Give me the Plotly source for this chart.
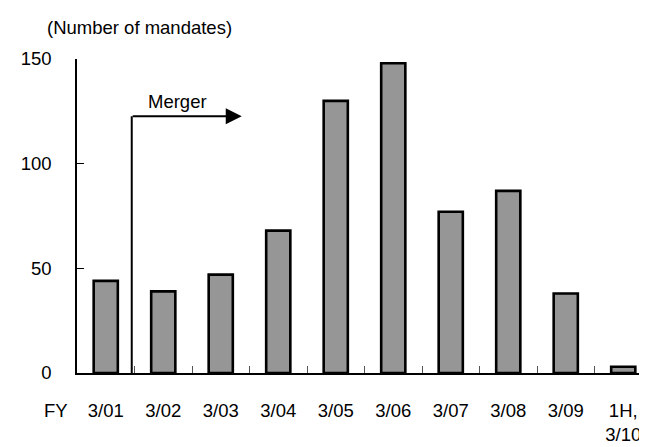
import plotly.graph_objects as go

categories = ["3/01", "3/02", "3/03", "3/04", "3/05", "3/06", "3/07", "3/08", "3/09", "1H,<br>3/10"]
mandates = [44, 39, 47, 68, 130, 148, 77, 87, 38, 3]
y_ticks = [0, 50, 100, 150]
merger_x = 0.452
merger_y = 122.7
merger_end_x = 2.365
merger_label_x = 1.25

FONT = "Liberation Sans, Arial, sans-serif"
FS = 18.5
OFF = 8  # page body margin
W, H = 647, 447
ML, MT = 77 - OFF, 59 - OFF
plot_bottom = 373 - OFF
MB = H - plot_bottom
MR = 0
plot_w = W - ML - MR
plot_h = H - MT - MB
cat_px = 57.5

fig = go.Figure()
fig.add_trace(go.Bar(
    x=categories, y=mandates, width=0.42,
    marker=dict(color="#969696", line=dict(color="black", width=2.6)),
))

fig.add_shape(type="line", xref="x", yref="y", x0=merger_x, x1=merger_x, y0=0, y1=merger_y,
              line=dict(color="black", width=2))
fig.add_annotation(x=merger_end_x, y=merger_y, ax=merger_x - 0.01, ay=merger_y,
                   xref="x", yref="y", axref="x", ayref="y", text="", showarrow=True,
                   arrowhead=2, arrowwidth=2, arrowsize=1.6, arrowcolor="black")
fig.add_annotation(x=merger_label_x, y=merger_y, yshift=15, xref="x", yref="y",
                   text="Merger", showarrow=False, font=dict(family=FONT, size=FS, color="black"))

fig.add_annotation(xref="paper", yref="paper", x=(45 - OFF - ML) / plot_w,
                   y=1 + (MT - (28 - OFF)) / plot_h,
                   xanchor="left", yanchor="middle", text="(Number of mandates)", showarrow=False,
                   font=dict(family=FONT, size=FS, color="black"))
fig.add_annotation(xref="paper", yref="paper", x=(56 - OFF - ML) / plot_w,
                   y=-((410 - OFF) - plot_bottom) / plot_h,
                   xanchor="center", yanchor="middle", text="FY", showarrow=False,
                   font=dict(family=FONT, size=FS, color="black"))

fig.update_layout(
    width=W, height=H, margin=dict(l=ML, r=MR, t=MT, b=MB),
    plot_bgcolor="white", paper_bgcolor="white", showlegend=False,
    font=dict(family=FONT, size=FS, color="black"),
)
fig.update_xaxes(
    type="category", range=[-0.5, -0.5 + plot_w / cat_px],
    showline=True, linecolor="black", linewidth=1.5,
    ticks="inside", tickson="boundaries", ticklen=7, tickcolor="#555", tickwidth=1,
    showgrid=False, ticklabelstandoff=20, tickfont=dict(family=FONT, size=FS, color="black"),
)
fig.update_yaxes(
    range=[0, 150], tickvals=y_ticks, showline=True, linecolor="black", linewidth=1.5,
    ticks="inside", ticklen=7, tickcolor="black", tickwidth=1, showgrid=False, zeroline=False,
    ticklabelstandoff=20, tickfont=dict(family=FONT, size=FS, color="black"),
)

fig.write_html("out.html")
